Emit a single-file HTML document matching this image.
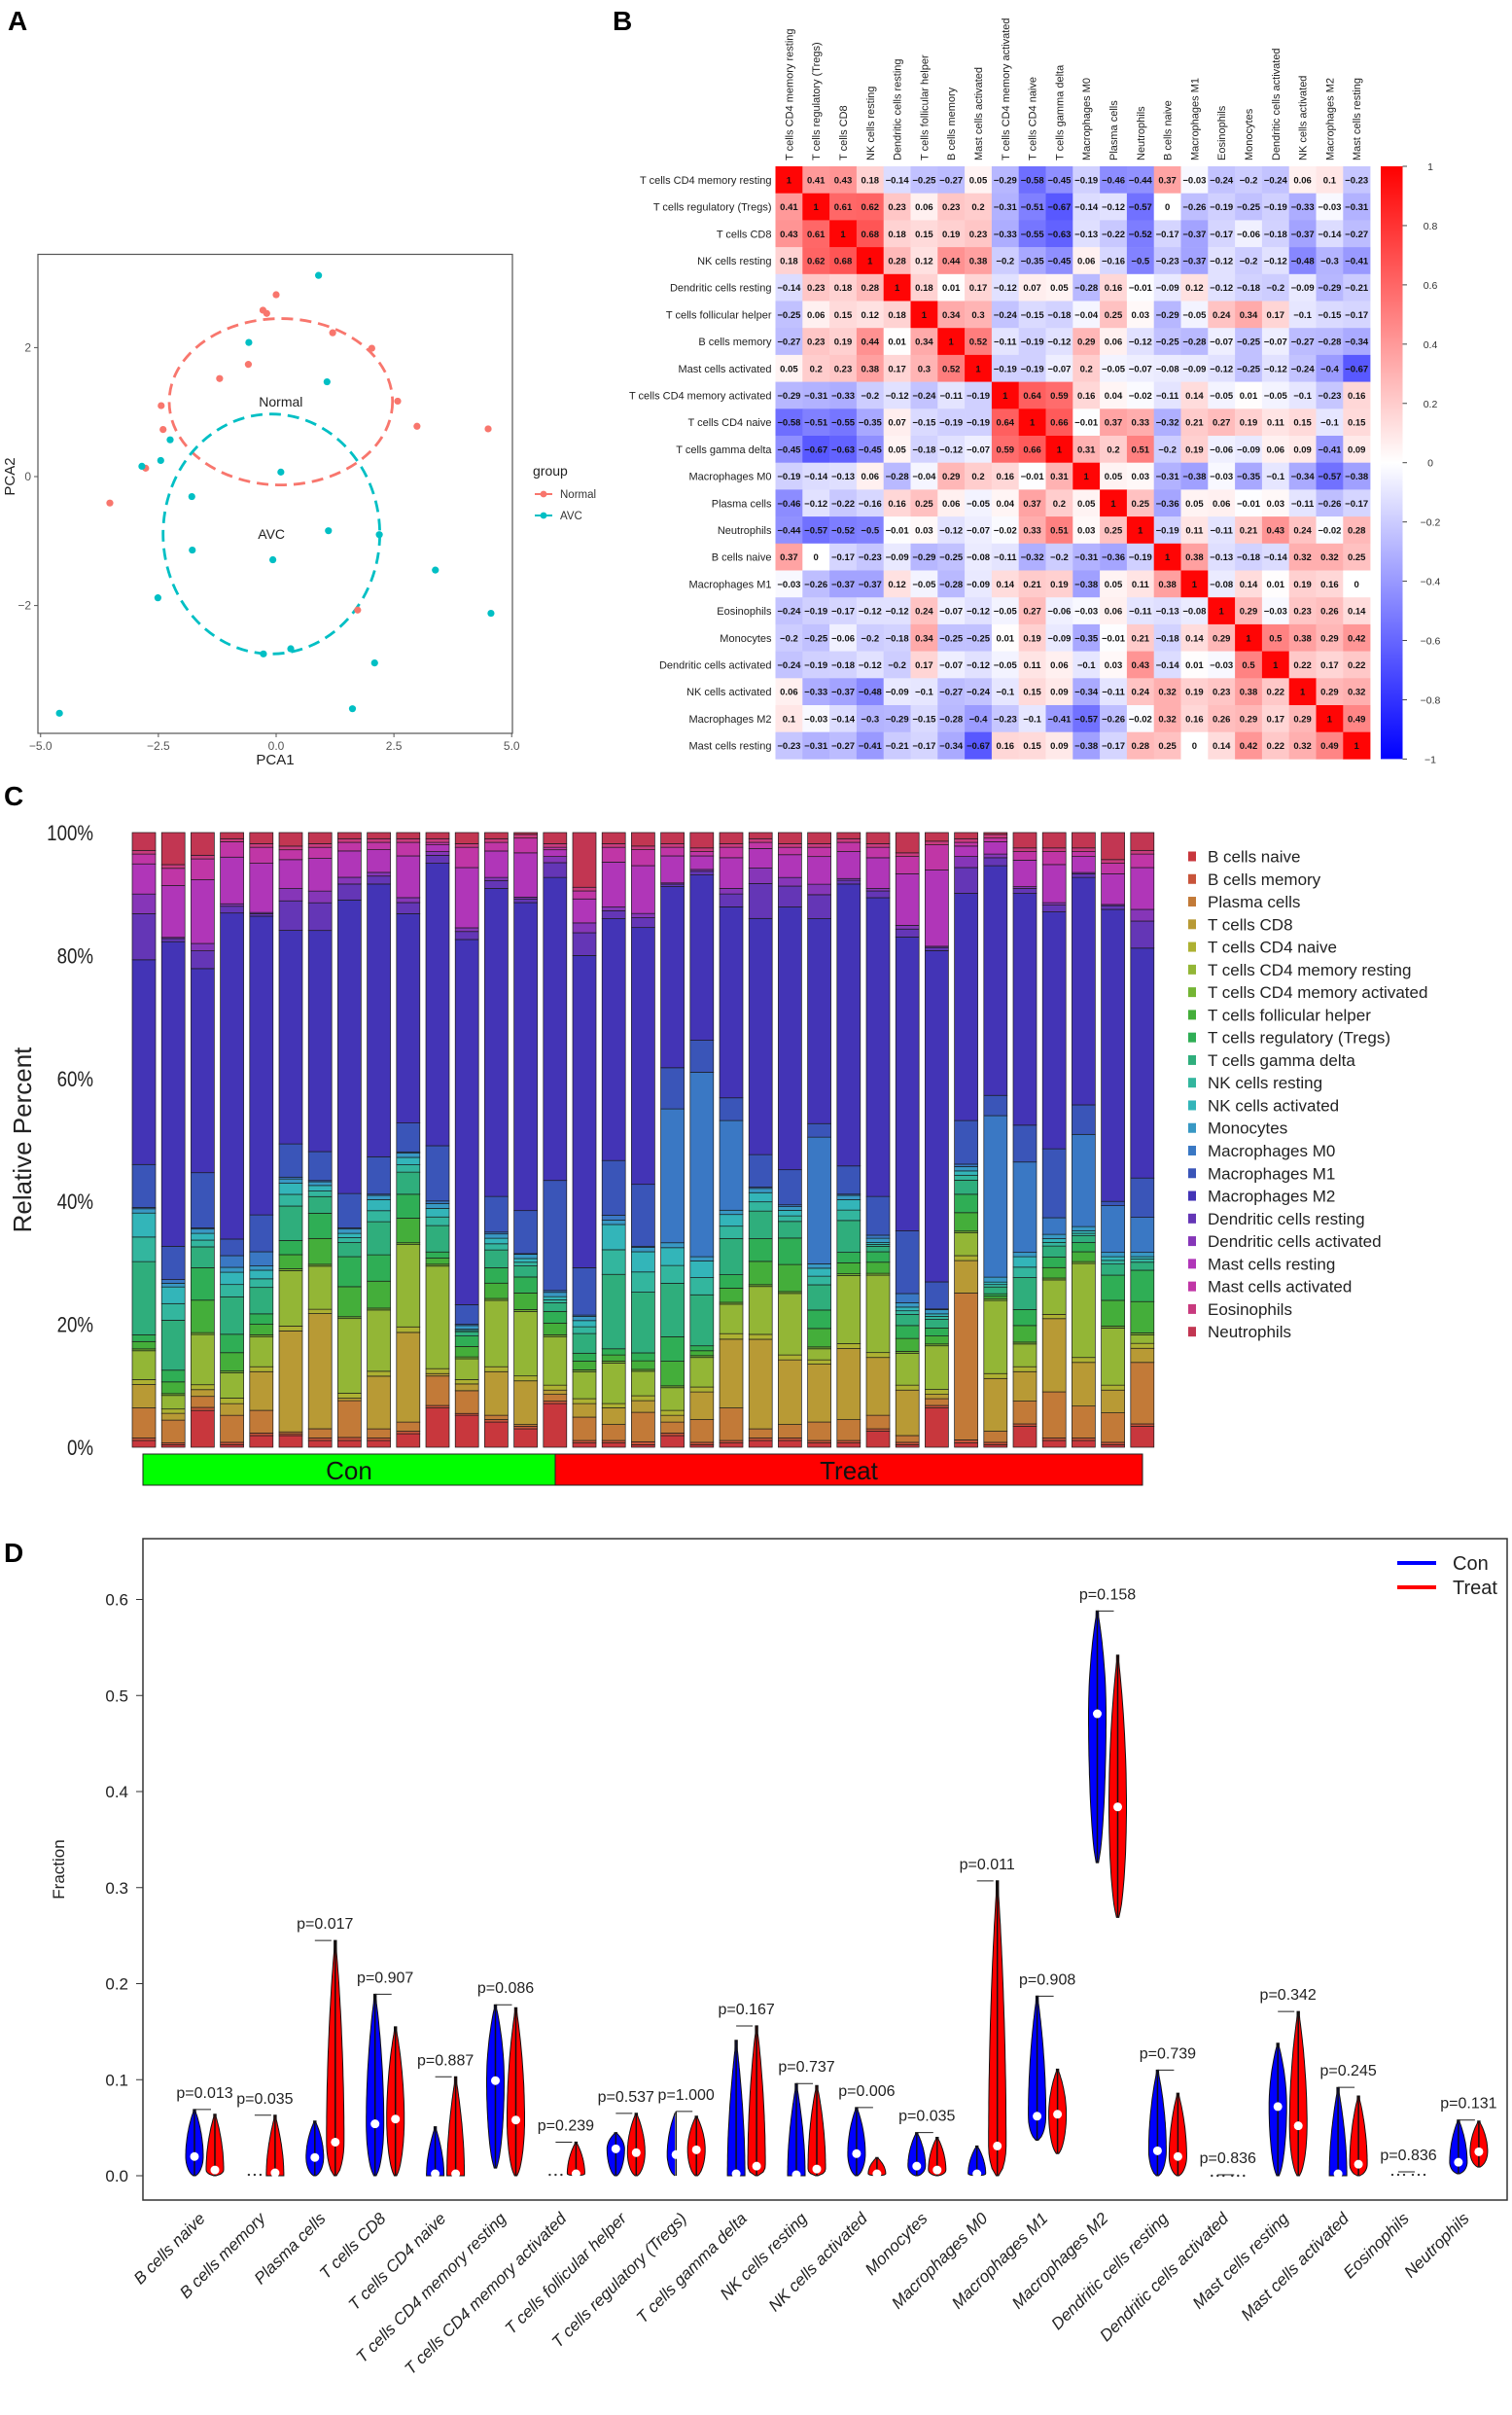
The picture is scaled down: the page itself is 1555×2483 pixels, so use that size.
<!DOCTYPE html>
<html><head><meta charset="utf-8"><style>
html,body{margin:0;padding:0;background:#fff;}
svg{display:block;font-family:"Liberation Sans",Arial,sans-serif;}
</style></head><body>
<svg id="fig" width="1555" height="2483" viewBox="0 0 1555 2483" xmlns="http://www.w3.org/2000/svg">
<rect x="0" y="0" width="1555" height="2483" fill="#fff"/>
<defs>
<linearGradient id="cbar" x1="0" y1="0" x2="0" y2="1">
<stop offset="0" stop-color="#ff0000"/><stop offset="0.5" stop-color="#ffffff"/><stop offset="1" stop-color="#0000ff"/>
</linearGradient>
</defs>
<text x="8" y="31" font-size="28" font-weight="bold">A</text>
<text x="630" y="31" font-size="28" font-weight="bold">B</text>
<text x="4" y="828" font-size="28" font-weight="bold">C</text>
<text x="4" y="1606" font-size="28" font-weight="bold">D</text>
</svg>
<script>
const NS="http://www.w3.org/2000/svg";
const svg=document.getElementById('fig');
function mk(tag,attrs,parent){const e=document.createElementNS(NS,tag);for(const k in attrs)e.setAttribute(k,attrs[k]);(parent||svg).appendChild(e);return e;}

/* ================= Panel A: PCA ================= */
const normalX=[0,-0.28,-0.2,1.2,2.03,-0.59,-1.2,-2.44,2.58,-2.4,2.99,4.5,-2.77,-3.53,1.73];
const normalY=[2.82,2.58,2.53,2.23,1.99,1.74,1.52,1.1,1.17,0.73,0.78,0.74,0.13,-0.41,-2.07];
const avcX=[0.9,-0.58,1.08,-2.25,-2.45,-2.85,0.1,-1.79,-1.78,1.11,2.19,-0.07,3.38,-2.51,4.56,-0.27,0.31,2.09,1.62,-4.6];
const avcY=[3.12,2.08,1.47,0.57,0.25,0.16,0.07,-0.31,-1.14,-0.84,-0.9,-1.29,-1.45,-1.88,-2.12,-2.75,-2.67,-2.89,-3.6,-3.67];
const pcaTicksX=[-5,-2.5,0,2.5,5];
const pcaTicksY=[-2,0,2];
const ellipseCX=[0.1,-0.1], ellipseCY=[1.16,-0.89], ellipseRX=[2.37,2.3], ellipseRY=[1.29,1.86];
const groupNames=['Normal','AVC'];
const xA=v=>284+v*48.45, yA=v=>490-v*66.3;
(function(){
  const g=mk('g',{});
  
  
  let r=mk('rect',{x:39,y:261.5,width:488,height:492.5,fill:'none',stroke:'#555','stroke-width':1.2},g);
  
  
  pcaTicksX.forEach(t=>{
    const l=mk('line',{x1:xA(t),x2:xA(t),y1:754,y2:758,stroke:'#555'},g);
    
    
    const tx=mk('text',{x:xA(t),y:771,'font-size':12,fill:'#555','text-anchor':'middle'},g);
    
    
    tx.textContent=t.toFixed(1).replace('-','\u2212');
  });
  pcaTicksY.forEach(t=>{
    const l=mk('line',{x1:35,x2:39,y1:yA(t),y2:yA(t),stroke:'#555'},g);
    
    
    const tx=mk('text',{x:32,y:yA(t)+4,'font-size':12,fill:'#555','text-anchor':'end'},g);
    
    
    tx.textContent=String(t).replace('-','\u2212');
  });
  let t=mk('text',{x:283,y:786,'font-size':15,'text-anchor':'middle',fill:'#222'},g);
  
  
  t.textContent='PCA1';
  t=mk('text',{x:0,y:0,'font-size':15,'text-anchor':'middle',fill:'#222',transform:'translate(15,490) rotate(-90)'},g);
  
  
  t.textContent='PCA2';
  const cols=['#F8766D','#00BFC4'];
  for(let k=0;k<2;k++){
    const e=mk('ellipse',{cx:xA(ellipseCX[k]),cy:yA(ellipseCY[k]),rx:ellipseRX[k]*48.45,ry:ellipseRY[k]*66.3,fill:'none',stroke:cols[k],'stroke-width':2.8,'stroke-dasharray':'12 7'},g);
    
    
    const lb=mk('text',{x:xA(ellipseCX[k]),y:yA(ellipseCY[k])+5,'font-size':14,'text-anchor':'middle',fill:'#222'},g);
    
    
    lb.textContent=groupNames[k];
  }
  normalX.forEach((v,i)=>{
    const c=mk('circle',{cx:xA(v),cy:yA(normalY[i]),r:3.6,fill:cols[0]},g);
    
    
  });
  avcX.forEach((v,i)=>{
    const c=mk('circle',{cx:xA(v),cy:yA(avcY[i]),r:3.6,fill:cols[1]},g);
    
    
  });
  t=mk('text',{x:548,y:489,'font-size':14,fill:'#222'},g);
  
  
  t.textContent='group';
  for(let k=0;k<2;k++){
    const y=508+k*22;
    const l=mk('line',{x1:550,x2:568,y1:y,y2:y,stroke:cols[k],'stroke-width':2},g);
    
    
    const c=mk('circle',{cx:559,cy:y,r:3.4,fill:cols[k]},g);
    
    
    const lt=mk('text',{x:576,y:y+4,'font-size':11.5,fill:'#333'},g);
    
    
    lt.textContent=groupNames[k];
  }
})();

/* ================= Panel B: correlation heatmap ================= */
const corrLabels=['T cells CD4 memory resting','T cells regulatory (Tregs)','T cells CD8','NK cells resting','Dendritic cells resting','T cells follicular helper','B cells memory','Mast cells activated','T cells CD4 memory activated','T cells CD4 naive','T cells gamma delta','Macrophages M0','Plasma cells','Neutrophils','B cells naive','Macrophages M1','Eosinophils','Monocytes','Dendritic cells activated','NK cells activated','Macrophages M2','Mast cells resting'];
const corrRows=[
[1,0.41,0.43,0.18,-0.14,-0.25,-0.27,0.05,-0.29,-0.58,-0.45,-0.19,-0.46,-0.44,0.37,-0.03,-0.24,-0.2,-0.24,0.06,0.1,-0.23],
[0.41,1,0.61,0.62,0.23,0.06,0.23,0.2,-0.31,-0.51,-0.67,-0.14,-0.12,-0.57,0,-0.26,-0.19,-0.25,-0.19,-0.33,-0.03,-0.31],
[0.43,0.61,1,0.68,0.18,0.15,0.19,0.23,-0.33,-0.55,-0.63,-0.13,-0.22,-0.52,-0.17,-0.37,-0.17,-0.06,-0.18,-0.37,-0.14,-0.27],
[0.18,0.62,0.68,1,0.28,0.12,0.44,0.38,-0.2,-0.35,-0.45,0.06,-0.16,-0.5,-0.23,-0.37,-0.12,-0.2,-0.12,-0.48,-0.3,-0.41],
[-0.14,0.23,0.18,0.28,1,0.18,0.01,0.17,-0.12,0.07,0.05,-0.28,0.16,-0.01,-0.09,0.12,-0.12,-0.18,-0.2,-0.09,-0.29,-0.21],
[-0.25,0.06,0.15,0.12,0.18,1,0.34,0.3,-0.24,-0.15,-0.18,-0.04,0.25,0.03,-0.29,-0.05,0.24,0.34,0.17,-0.1,-0.15,-0.17],
[-0.27,0.23,0.19,0.44,0.01,0.34,1,0.52,-0.11,-0.19,-0.12,0.29,0.06,-0.12,-0.25,-0.28,-0.07,-0.25,-0.07,-0.27,-0.28,-0.34],
[0.05,0.2,0.23,0.38,0.17,0.3,0.52,1,-0.19,-0.19,-0.07,0.2,-0.05,-0.07,-0.08,-0.09,-0.12,-0.25,-0.12,-0.24,-0.4,-0.67],
[-0.29,-0.31,-0.33,-0.2,-0.12,-0.24,-0.11,-0.19,1,0.64,0.59,0.16,0.04,-0.02,-0.11,0.14,-0.05,0.01,-0.05,-0.1,-0.23,0.16],
[-0.58,-0.51,-0.55,-0.35,0.07,-0.15,-0.19,-0.19,0.64,1,0.66,-0.01,0.37,0.33,-0.32,0.21,0.27,0.19,0.11,0.15,-0.1,0.15],
[-0.45,-0.67,-0.63,-0.45,0.05,-0.18,-0.12,-0.07,0.59,0.66,1,0.31,0.2,0.51,-0.2,0.19,-0.06,-0.09,0.06,0.09,-0.41,0.09],
[-0.19,-0.14,-0.13,0.06,-0.28,-0.04,0.29,0.2,0.16,-0.01,0.31,1,0.05,0.03,-0.31,-0.38,-0.03,-0.35,-0.1,-0.34,-0.57,-0.38],
[-0.46,-0.12,-0.22,-0.16,0.16,0.25,0.06,-0.05,0.04,0.37,0.2,0.05,1,0.25,-0.36,0.05,0.06,-0.01,0.03,-0.11,-0.26,-0.17],
[-0.44,-0.57,-0.52,-0.5,-0.01,0.03,-0.12,-0.07,-0.02,0.33,0.51,0.03,0.25,1,-0.19,0.11,-0.11,0.21,0.43,0.24,-0.02,0.28],
[0.37,0,-0.17,-0.23,-0.09,-0.29,-0.25,-0.08,-0.11,-0.32,-0.2,-0.31,-0.36,-0.19,1,0.38,-0.13,-0.18,-0.14,0.32,0.32,0.25],
[-0.03,-0.26,-0.37,-0.37,0.12,-0.05,-0.28,-0.09,0.14,0.21,0.19,-0.38,0.05,0.11,0.38,1,-0.08,0.14,0.01,0.19,0.16,0],
[-0.24,-0.19,-0.17,-0.12,-0.12,0.24,-0.07,-0.12,-0.05,0.27,-0.06,-0.03,0.06,-0.11,-0.13,-0.08,1,0.29,-0.03,0.23,0.26,0.14],
[-0.2,-0.25,-0.06,-0.2,-0.18,0.34,-0.25,-0.25,0.01,0.19,-0.09,-0.35,-0.01,0.21,-0.18,0.14,0.29,1,0.5,0.38,0.29,0.42],
[-0.24,-0.19,-0.18,-0.12,-0.2,0.17,-0.07,-0.12,-0.05,0.11,0.06,-0.1,0.03,0.43,-0.14,0.01,-0.03,0.5,1,0.22,0.17,0.22],
[0.06,-0.33,-0.37,-0.48,-0.09,-0.1,-0.27,-0.24,-0.1,0.15,0.09,-0.34,-0.11,0.24,0.32,0.19,0.23,0.38,0.22,1,0.29,0.32],
[0.1,-0.03,-0.14,-0.3,-0.29,-0.15,-0.28,-0.4,-0.23,-0.1,-0.41,-0.57,-0.26,-0.02,0.32,0.16,0.26,0.29,0.17,0.29,1,0.49],
[-0.23,-0.31,-0.27,-0.41,-0.21,-0.17,-0.34,-0.67,0.16,0.15,0.09,-0.38,-0.17,0.28,0.25,0,0.14,0.42,0.22,0.32,0.49,1]];
const colorbarTicks=[1,0.8,0.6,0.4,0.2,0,-0.2,-0.4,-0.6,-0.8,-1];
(function(){
  const g=mk('g',{});
  
  
  const x0=797.5,y0=171,cw=27.8,ch=27.7,n=corrLabels.length;
  const col=v=>{if(v>=0){const c=Math.round(255*(1-v*0.98));return `rgb(255,${c},${c})`;}const c=Math.round(255*(1+v*0.98));return `rgb(${c},${c},255)`;};
  for(let i=0;i<n;i++){
    const rl=mk('text',{x:x0-4,y:y0+ch*(i+0.5)+4,'font-size':11,'text-anchor':'end',fill:'#222'},g);
    
    
    rl.textContent=corrLabels[i];
    const cl=mk('text',{x:0,y:0,'font-size':11,fill:'#222',transform:`translate(${x0+cw*(i+0.5)+4},165) rotate(-90)`},g);
    
    
    cl.textContent=corrLabels[i];
    for(let j=0;j<n;j++){
      const v=corrRows[i][j];
      const r=mk('rect',{x:x0+cw*j,y:y0+ch*i,width:cw+0.3,height:ch+0.3,fill:col(v)},g);
      
      
      const t=mk('text',{x:x0+cw*(j+0.5),y:y0+ch*(i+0.5)+3.5,'font-size':9.5,'font-weight':'bold','text-anchor':'middle',fill:'#111'},g);
      
      
      t.textContent=String(v).replace('-','\u2212');
    }
  }
  const cb=mk('rect',{x:1420,y:y0,width:22.5,height:ch*n,fill:'url(#cbar)'},g);
  
  
  const yc=v=>y0+(1-v)/2*ch*n;
  colorbarTicks.forEach(v=>{
    const l=mk('line',{x1:1442.5,x2:1447,y1:yc(v),y2:yc(v),stroke:'#444'},g);
    
    
    const t=mk('text',{x:1471,y:yc(v)+4,'font-size':10.5,'text-anchor':'middle',fill:'#333'},g);
    
    
    t.textContent=String(v).replace('-','\u2212');
  });
})();

/* ================= Panel C: stacked bars ================= */
const cellTypes=['B cells naive','B cells memory','Plasma cells','T cells CD8','T cells CD4 naive','T cells CD4 memory resting','T cells CD4 memory activated','T cells follicular helper','T cells regulatory (Tregs)','T cells gamma delta','NK cells resting','NK cells activated','Monocytes','Macrophages M0','Macrophages M1','Macrophages M2','Dendritic cells resting','Dendritic cells activated','Mast cells resting','Mast cells activated','Eosinophils','Neutrophils'];
const typeColors=['#c8373d','#c8543a','#c27a38','#b89a35','#adb132','#93b636','#74b534','#44ae3a','#2fae55','#2fae7c','#33b69e','#33b5b9','#3898c4','#3a78c4','#3a55b8','#4334b6','#6436b6','#8636b8','#b036b8','#c036a6','#c83a7e','#c23652'];
const bNaive=[1.1,.4,6,.4,1.9,1.9,1.1,1.1,1.1,2.2,6.4,5.2,4.1,3,7.1,.7,.7,.4,1.9,.4,.7,1.1,1.1,.7,.7,2.6,.4,6.4,.7,.4,3.4,1.1,1.1,.4,3.4];
const bMemory=[.4,.3,.5,.4,.4,.3,.4,.5,.4,.4,.4,.3,.4,.4,.4,.4,.4,.5,.4,.4,.4,.4,.4,.4,.4,.4,.4,.4,.5,.4,.4,.4,.4,.4,.4];
const plasma=[4.9,3.7,1.8,4.4,3.7,.3,1.5,6,1.5,1.5,4.8,3.7,.7,.3,1.1,3.8,2.6,4.8,1.8,3.7,5.3,1.5,2.2,3,3.4,2.2,1.1,1.1,23.9,1.8,3.7,7.5,5.2,4.8,10];
const cd8=[3.8,1.1,1.1,1.9,6.3,16.4,18.7,.4,8.6,14.6,.4,1.1,7.1,7.1,.7,2.2,2.7,1.9,1.1,4.5,11.2,14.6,10.5,9.4,11.6,9.4,7.4,.7,5.3,8.6,4.8,11.9,7.1,3.7,2.3];
const cd4Naive=[.8,.7,.8,.9,.8,.8,.7,.8,.8,.9,.8,.7,.8,.8,.8,.8,.7,.8,.8,.8,.9,.8,.8,.7,.8,.8,.8,.8,.8,.8,.8,.7,.8,.8,.8];
const cd4MemRest=[4.7,2.2,8.2,4.1,4.9,9,7,12.2,10,13.4,16.7,3.4,10.8,10.5,7.9,4.4,6.6,4,3.7,4.8,4.8,7.8,10,1.8,11.1,12.6,5.2,7.1,3.7,11.9,3.7,5.6,15.3,9.3,1.4];
const cd4MemAct=[.3,.3,.3,.3,.3,.3,.3,.3,.3,.3,.3,.3,.3,.3,.3,.3,.3,.3,.3,.3,.3,.3,.3,.3,.3,.3,.3,.3,.3,.3,.3,.3,.3,.3,.3];
const tfh=[1.2,1.9,5.3,3,1.7,2.3,4.2,4.9,4.4,4,1,1.7,2.5,2.7,1.9,1.4,1,1.4,4,.8,2.3,3.8,4.4,3,1.8,1.8,2.1,1.3,3,.4,2.7,1.7,1.6,4.2,5.1];
const tregs=[1.1,1.9,5.3,3,1.7,2.3,4.1,4.9,4.3,3.9,1,1.7,2.5,2.6,1.9,1.3,1,1.3,4,.8,2.2,3.7,4.3,3,1.7,1.7,2.1,1.3,3,.4,2.6,1.7,1.5,4.1,5.1];
const gammaDelta=[11.9,8.1,3.4,6.1,4.3,5.6,2.7,2.3,5.4,3.6,4.3,.7,2.9,1.8,1.4,3.2,12.1,9.9,8.7,8.3,5.9,4.5,2.7,4.1,5.2,.9,1.8,1.4,2.3,1.1,5.2,1.8,1.1,1.8,1.3];
const nkResting=[4,2.7,1.1,2,1.4,1.9,.9,.8,1.8,1.2,1.4,.2,1,.6,.5,1.1,4,3.3,2.9,2.8,2,1.5,.9,1.4,1.7,.3,.6,.5,.8,.4,1.7,.6,.4,.6,.5];
const nkActivated=[3.9,2.7,1.1,2,1.4,1.8,.9,.7,1.8,1.2,1.4,.2,.9,.6,.5,1,4.1,3.3,2.9,2.7,1.9,1.5,.9,1.3,1.7,.3,.6,.4,.7,.4,1.7,.6,.4,.6,.4];
const monocytes=[.7,.6,.7,.8,.7,.7,.6,.7,.7,.7,.8,.6,.7,.7,.7,.7,.7,.7,.8,.7,.7,.7,.6,.7,.7,.7,.7,.7,.7,.8,.7,.7,.7,.7,.7];
const m0=[.2,.6,.2,1.9,2.3,.3,.2,.2,.2,.2,.4,.2,.3,.1,.3,.2,.8,.2,21.8,30,14.6,.2,.3,20.6,.2,.5,1.5,.1,.4,26.3,14.7,2.7,15,7.6,5.7];
const m1=[7,5.4,9,2.7,6,5.4,4.7,5.6,6.1,4.7,9,3.2,5.8,7,17.9,7.7,8.9,10.1,6.7,5.2,3.7,5.3,5.7,2.2,4.6,6.3,10.2,4.4,7.1,3.3,6,11.2,4.8,.7,6.4];
const m2=[33.3,49.4,33.3,53.1,48.6,34.7,35.9,47.9,44.5,34.1,46,59.4,50.1,50.1,49.3,50.8,39.3,41.9,29.5,26.9,31.1,38.5,42.7,33.3,46,48.6,47.8,53.9,37,37.4,37.7,38.5,37,47.5,37.4];
const dcResting=[7.5,.5,2.9,1.1,.4,4.8,4.5,2.6,1.3,1.8,1.3,1.3,1.3,.6,2.4,3.7,1.3,1.6,.4,.6,2.1,5.7,3.4,3.9,.6,1.1,1.3,.5,4.2,1.3,.8,1.1,.6,.6,4.4];
const dcActivated=[3.2,.2,1.2,.4,.2,2,1.9,1.1,.6,.8,.6,.6,.5,.3,1,1.6,.6,.7,.2,.3,.9,2.5,1.4,1.7,.3,.4,.6,.2,1.8,.6,.3,.4,.2,.2,1.9];
const mastResting=[4.9,8.4,10.4,7.6,8,4.7,5.3,4.3,3.7,6.8,1.1,9.8,4.3,7.2,1.1,3.9,7.3,7.8,4.4,2.2,5,3.2,3.7,4.5,4.4,5,8.4,12.4,1.7,2,4.3,6.2,2.6,5,6.8];
const mastActivated=[1.6,2.8,3.4,2.5,2.6,1.6,1.8,1.4,1.2,2.2,.4,3.3,1.4,2.4,.4,1.3,2.4,2.6,1.4,.7,1.7,1,1.2,1.5,1.5,1.7,2.8,4.1,.6,.6,1.4,2.1,.8,1.7,2.2];
const eosinophils=[.6,.6,.6,.5,.6,.6,.6,.6,.6,.6,.6,.6,.6,.6,.6,.6,.6,.6,.6,.6,.6,.6,.6,.6,.6,.6,.6,.6,.6,.6,.6,.6,.6,.6,.6];
const neutrophils=[2.9,5.2,3.7,1,1.8,2.2,1.8,1,1,1,1,1.8,1,.3,1.8,8.9,1.8,2.2,1.8,2.5,1.8,1,1.8,1.8,1,1.8,3.3,1.4,1,.3,2.5,2.5,2.5,4.4,2.9];
const seriesC=[bNaive,bMemory,plasma,cd8,cd4Naive,cd4MemRest,cd4MemAct,tfh,tregs,gammaDelta,nkResting,nkActivated,monocytes,m0,m1,m2,dcResting,dcActivated,mastResting,mastActivated,eosinophils,neutrophils];
const groupSizes=[15,20];
const groupLabels=['Con','Treat'];
const pctTicks=[0,20,40,60,80,100];
(function(){
  const g=mk('g',{});
  
  
  const yC=p=>1488-p*6.32;
  const nb=bNaive.length,pitch=30.2,bw=24,x0=136;
  for(let b=0;b<nb;b++){
    let tot=0;seriesC.forEach(s=>tot+=s[b]);
    let cum=0;
    for(let k=0;k<seriesC.length;k++){
      const p=seriesC[k][b]/tot*100;
      const r=mk('rect',{x:x0+b*pitch,y:yC(cum+p),width:bw,height:p*6.32,fill:typeColors[k],stroke:'#1a1a1a','stroke-width':0.7},g);
      
      
      cum+=p;
    }
  }
  pctTicks.forEach(p=>{
    const t=mk('text',{x:96,y:yC(p)+8,'font-size':22,'text-anchor':'end',fill:'#222',transform:`translate(${96*0.15},0) scale(0.85,1)`},g);
    
    
    t.textContent=p+'%';
  });
  let t=mk('text',{x:0,y:0,'font-size':26,'text-anchor':'middle',fill:'#222',transform:'translate(32,1172) rotate(-90)'},g);
  
  
  t.textContent='Relative Percent';
  const gx=[147,571,1175],gc=['#00ff00','#ff0000'];
  for(let k=0;k<2;k++){
    const r=mk('rect',{x:gx[k],y:1495,width:gx[k+1]-gx[k],height:32,fill:gc[k],stroke:'#222','stroke-width':1},g);
    
    
    const tt=mk('text',{x:(gx[k]+gx[k+1])/2,y:1521,'font-size':26,'text-anchor':'middle',fill:'#111'},g);
    
    
    tt.textContent=groupLabels[k];
  }
  cellTypes.forEach((n,i)=>{
    const y=880.5+23.27*i;
    const s=mk('rect',{x:1222,y:y-5,width:8,height:10,fill:typeColors[i]},g);
    
    
    const lt=mk('text',{x:1242,y:y+6,'font-size':17,fill:'#222'},g);
    
    
    lt.textContent=n;
  });
})();

/* ================= Panel D: violins ================= */
const violinCats=['B cells naive','B cells memory','Plasma cells','T cells CD8','T cells CD4 naive','T cells CD4 memory resting','T cells CD4 memory activated','T cells follicular helper','T cells regulatory (Tregs)','T cells gamma delta','NK cells resting','NK cells activated','Monocytes','Macrophages M0','Macrophages M1','Macrophages M2','Dendritic cells resting','Dendritic cells activated','Mast cells resting','Mast cells activated','Eosinophils','Neutrophils'];
const pValues=['0.013','0.035','0.017','0.907','0.887','0.086','0.239','0.537','1.000','0.167','0.737','0.006','0.035','0.011','0.908','0.158','0.739','0.836','0.342','0.245','0.836','0.131'];
const conMin=[0,0,0,0,0,0.008,0,0,0,0,0,0,0,0,0.037,0.326,0,0,0,0,0,0.002];
const conMax=[0.069,0.003,0.057,0.189,0.051,0.178,0.002,0.045,0.067,0.141,0.096,0.071,0.045,0.031,0.187,0.588,0.11,0.001,0.138,0.092,0.003,0.058];
const conMed=[0.02,0.001,0.019,0.054,0.002,0.099,0.001,0.028,0.022,0.002,0.001,0.023,0.01,0.002,0.062,0.481,0.026,0,0.072,0.002,0.001,0.014];
const treatMin=[0,0,0,0,0,0,0,0,0,0,0,0,0,0,0.023,0.269,0,0,0,0,0,0.009];
const treatMax=[0.064,0.063,0.245,0.155,0.103,0.175,0.035,0.065,0.062,0.156,0.094,0.019,0.04,0.307,0.111,0.542,0.086,0.001,0.171,0.083,0.004,0.057];
const treatMed=[0.006,0.003,0.035,0.059,0.002,0.058,0.002,0.024,0.027,0.01,0.007,0.002,0.006,0.031,0.064,0.384,0.02,0,0.052,0.012,0.001,0.025];
const fracTicks=[0,0.1,0.2,0.3,0.4,0.5,0.6];
(function(){
  const g=mk('g',{});
  
  
  const yD=v=>2237-v*987.5;
  let r=mk('rect',{x:147,y:1582,width:1403,height:680,fill:'none',stroke:'#333','stroke-width':1.5},g);
  
  
  fracTicks.forEach(v=>{
    const l=mk('line',{x1:140,x2:147,y1:yD(v),y2:yD(v),stroke:'#333'},g);
    
    
    const t=mk('text',{x:132,y:yD(v)+6,'font-size':17,'text-anchor':'end',fill:'#222'},g);
    
    
    t.textContent=v.toFixed(1);
  });
  let t=mk('text',{x:0,y:0,'font-size':17,'text-anchor':'middle',fill:'#222',transform:'translate(66,1922) rotate(-90)'},g);
  
  
  t.textContent='Fraction';
  function violin(cx,mn,mx,md,color,name){
    const W=9;
    if(mx-mn<0.006){
      for(const dx of [-6,0,6]){
        const d=mk('circle',{cx:cx+dx,cy:yD(md),r:1.2,fill:'#333'},g);
        
        
      }
      return;
    }
    const tp=Math.max(0,Math.min(1,(md-mn)/(mx-mn)));
    const N=40,L=[],R=[];
    for(let i=0;i<=N;i++){
      const tt=i/N,v=mn+(mx-mn)*tt;
      let s;
      if(tp<0.05){s=Math.pow(Math.cos(Math.PI/2*tt),0.9);}
      else if(tt<tp){s=Math.pow(Math.sin(Math.PI/2*tt/tp),0.5);}
      else{s=Math.pow(Math.cos(Math.PI/2*(tt-tp)/(1-tp)),0.8);}
      const w=Math.max(1.2,W*s);
      L.push([cx-w,yD(v)]);R.push([cx+w,yD(v)]);
    }
    let d='M'+L.map(p=>p[0].toFixed(1)+','+p[1].toFixed(1)).join('L');
    d+='L'+R.reverse().map(p=>p[0].toFixed(1)+','+p[1].toFixed(1)).join('L')+'Z';
    const p=mk('path',{d:d,fill:color,stroke:'#111','stroke-width':1},g);
    
    
    const l=mk('line',{x1:cx,x2:cx,y1:yD(mn),y2:yD(mx),stroke:'#111','stroke-width':1.5},g);
    
    
    const c=mk('circle',{cx:cx,cy:yD(md),r:4.5,fill:'#fff'},g);
    
    
  }
  violinCats.forEach((n,i)=>{
    const cc=200+61.9*i, ct=cc+21;
    violin(cc,conMin[i],conMax[i],conMed[i],'#0000ff','violin-con');
    violin(ct,treatMin[i],treatMax[i],treatMed[i],'#ff0000','violin-treat');
    const top=Math.max(conMax[i],treatMax[i]);
    const bl=mk('line',{x1:cc,x2:ct-4,y1:yD(top),y2:yD(top),stroke:'#222','stroke-width':1},g);
    
    
    const pt=mk('text',{x:(cc+ct)/2,y:yD(top)-12,'font-size':16,'text-anchor':'middle',fill:'#222'},g);
    
    
    pt.textContent='p='+pValues[i];
    const xl=mk('text',{x:0,y:0,'font-size':17,'font-style':'italic','text-anchor':'end',fill:'#222',transform:`translate(${cc+12},2282) rotate(-45)`},g);
    
    
    xl.textContent=n;
  });
  const lg=[['Con','#0000ff',1607],['Treat','#ff0000',1632]];
  lg.forEach(e=>{
    const l=mk('line',{x1:1437,x2:1477,y1:e[2],y2:e[2],stroke:e[1],'stroke-width':4},g);
    
    
    const tt=mk('text',{x:1494,y:e[2]+7,'font-size':20,fill:'#222'},g);
    
    
    tt.textContent=e[0];
  });
})();
</script>
</body></html>
